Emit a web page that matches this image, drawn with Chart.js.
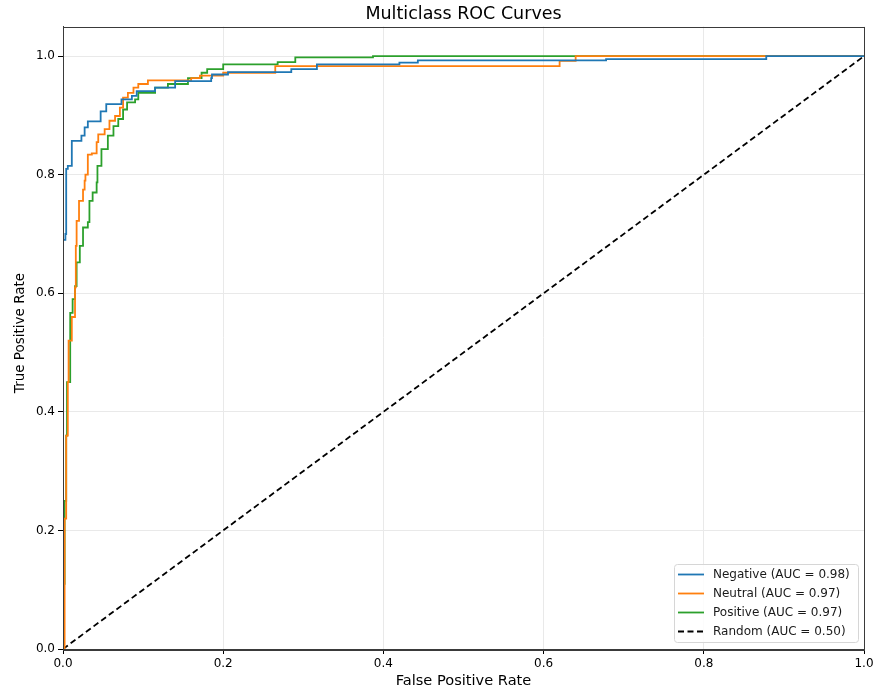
<!DOCTYPE html>
<html>
<head>
<meta charset="utf-8">
<script src="https://cdn.jsdelivr.net/npm/chart.js@4/dist/chart.umd.min.js"></script>
<style>
  html, body { margin: 0; padding: 0; background: #fff; }
  #wrap { width: 873px; height: 691px; position: relative; }
</style>
</head>
<body>
<div id="wrap"><canvas id="c" width="873" height="691"></canvas></div>
<script>
// ---- Data ----
const negFpr = [0, 0, 0.003, 0.004, 0.006, 0.011, 0.023, 0.027, 0.031, 0.047, 0.054, 0.073, 0.086, 0.092, 0.115, 0.14, 0.185, 0.186, 0.206, 0.285, 0.317, 0.42, 0.443, 0.678, 0.878, 1];
const negTpr = [0, 0.69, 0.70, 0.81, 0.815, 0.857, 0.866, 0.88, 0.89, 0.907, 0.919, 0.927, 0.933, 0.941, 0.947, 0.958, 0.963, 0.969, 0.973, 0.978, 0.986, 0.989, 0.993, 0.995, 1.0, 1.0];

const neuFpr = [0, 0.002, 0.004, 0.006, 0.007, 0.011, 0.015, 0.016, 0.017, 0.02, 0.025, 0.027, 0.028, 0.031, 0.036, 0.042, 0.044, 0.052, 0.058, 0.065, 0.071, 0.075, 0.081, 0.088, 0.094, 0.106, 0.16, 0.171, 0.2, 0.265, 0.62, 0.64, 1];
const neuTpr = [0, 0.22, 0.36, 0.45, 0.52, 0.56, 0.61, 0.68, 0.722, 0.756, 0.775, 0.79, 0.80, 0.834, 0.836, 0.855, 0.868, 0.877, 0.891, 0.899, 0.913, 0.93, 0.938, 0.947, 0.953, 0.959, 0.963, 0.967, 0.972, 0.983, 0.992, 1.0, 1.0];

const posFpr = [0, 0, 0.001, 0.002, 0.004, 0.005, 0.009, 0.012, 0.015, 0.017, 0.021, 0.025, 0.031, 0.033, 0.037, 0.042, 0.043, 0.048, 0.056, 0.063, 0.069, 0.075, 0.08, 0.09, 0.094, 0.115, 0.131, 0.156, 0.173, 0.18, 0.2, 0.268, 0.29, 0.387, 1];
const posTpr = [0, 0.08, 0.11, 0.25, 0.36, 0.45, 0.567, 0.59, 0.612, 0.652, 0.68, 0.711, 0.72, 0.756, 0.77, 0.787, 0.815, 0.843, 0.866, 0.882, 0.894, 0.91, 0.922, 0.927, 0.938, 0.947, 0.953, 0.963, 0.972, 0.978, 0.986, 0.99, 0.998, 1.0, 1.0];

const randFpr = [0, 1];
const randTpr = [0, 1];

const seriesLabels = ['Negative (AUC = 0.98)', 'Neutral (AUC = 0.97)', 'Positive (AUC = 0.97)', 'Random (AUC = 0.50)'];
const xTicks = [0.0, 0.2, 0.4, 0.6, 0.8, 1.0];
const yTicks = [0.0, 0.2, 0.4, 0.6, 0.8, 1.0];
const chartTitle = 'Multiclass ROC Curves';
const xTitle = 'False Positive Rate';
const yTitle = 'True Positive Rate';

// ---- Build ----
const FONT = '"DejaVu Sans", sans-serif';
const toPts = (xs, ys) => xs.map((x, i) => ({ x: x, y: ys[i] }));
const colors = ['#1f77b4', '#ff7f0e', '#2ca02c', '#000000'];

const boxPlugin = {
  id: 'boxPlugin',
  afterDatasetsDraw(chart) {
    const { ctx, chartArea: a } = chart;
    ctx.save();
    ctx.strokeStyle = '#3a3a3a';
    ctx.lineWidth = 1;
    ctx.strokeRect(Math.round(a.left) + 0.5, Math.round(a.top) + 0.5, Math.round(a.right - a.left), Math.round(a.bottom - a.top));
    ctx.restore();
  }
};

const titlesPlugin = {
  id: 'titlesPlugin',
  afterDraw(chart) {
    const { ctx, chartArea: a } = chart;
    const cx = (a.left + a.right) / 2;
    ctx.save();
    ctx.fillStyle = '#000';
    ctx.textAlign = 'center';
    ctx.textBaseline = 'middle';
    ctx.font = '17.5px ' + FONT;
    ctx.fillText(chartTitle, cx, 14);
    ctx.font = '14.6px ' + FONT;
    ctx.fillText(xTitle, cx, 681);
    ctx.translate(20, 333);
    ctx.rotate(-Math.PI / 2);
    ctx.font = '13.5px ' + FONT;
    ctx.fillText(yTitle, 0, 0);
    ctx.restore();
  }
};

const legendPlugin = {
  id: 'legendPlugin',
  afterDraw(chart) {
    const { ctx, chartArea: a } = chart;
    const w = 184, h = 78;
    const x0 = a.right - 6 - w, y0 = a.bottom - 7 - h;
    ctx.save();
    ctx.beginPath();
    if (ctx.roundRect) ctx.roundRect(x0 + 0.5, y0 + 0.5, w, h, 3); else ctx.rect(x0 + 0.5, y0 + 0.5, w, h);
    ctx.fillStyle = 'rgba(255,255,255,0.85)';
    ctx.fill();
    ctx.strokeStyle = '#d6d6d6';
    ctx.lineWidth = 1;
    ctx.stroke();
    ctx.font = '12px ' + FONT;
    ctx.textBaseline = 'middle';
    ctx.textAlign = 'left';
    chart.data.datasets.forEach((ds, i) => {
      const yy = y0 + 10.5 + i * 19;
      ctx.beginPath();
      ctx.strokeStyle = ds.borderColor;
      ctx.lineWidth = 1.8;
      ctx.setLineDash(ds.borderDash || []);
      ctx.moveTo(x0 + 4, yy);
      ctx.lineTo(x0 + 30, yy);
      ctx.stroke();
      ctx.setLineDash([]);
      ctx.fillStyle = '#1a1a1a';
      ctx.fillText(ds.label, x0 + 39, yy + 0.5);
    });
    ctx.restore();
  }
};

const mk = (label, xs, ys, color, dash) => ({
  label: label,
  data: toPts(xs, ys),
  borderColor: color,
  backgroundColor: color,
  borderWidth: 1.8,
  borderDash: dash || [],
  pointRadius: 0,
  pointHoverRadius: 0,
  tension: 0,
  stepped: dash ? false : 'before',
  fill: false
});

new Chart(document.getElementById('c'), {
  type: 'line',
  data: {
    datasets: [
      mk(seriesLabels[0], negFpr, negTpr, colors[0]),
      mk(seriesLabels[1], neuFpr, neuTpr, colors[1]),
      mk(seriesLabels[2], posFpr, posTpr, colors[2]),
      mk(seriesLabels[3], randFpr, randTpr, colors[3], [6, 3.5])
    ]
  },
  options: {
    responsive: false,
    animation: false,
    layout: { padding: { left: 0, right: 9, top: 26.5, bottom: 0 } },
    plugins: {
      legend: { display: false },
      tooltip: { enabled: false },
      title: { display: false }
    },
    scales: {
      x: {
        type: 'linear',
        min: 0, max: 1,
        afterBuildTicks: s => { s.ticks = xTicks.map(v => ({ value: v })); },
        afterFit: s => { s.height = 42; s.paddingLeft = 0; s.paddingRight = 0; },
        ticks: { color: '#000', font: { family: FONT, size: 12 }, padding: 3, maxRotation: 0, autoSkip: false,
                 callback: v => Number(v).toFixed(1) },
        grid: { color: '#e9e9e9', lineWidth: 1, tickColor: '#000', tickLength: 5 },
        border: { display: true, color: '#3a3a3a' },
        title: { display: false }
      },
      y: {
        type: 'linear',
        min: 0, max: 1.05,
        afterBuildTicks: s => { s.ticks = yTicks.map(v => ({ value: v })); },
        afterFit: s => { s.width = 63; s.paddingTop = 0; s.paddingBottom = 0; },
        ticks: { color: '#000', font: { family: FONT, size: 12 }, padding: 3, autoSkip: false,
                 callback: v => Number(v).toFixed(1) },
        grid: { color: '#e9e9e9', lineWidth: 1, tickColor: '#000', tickLength: 5 },
        border: { display: true, color: '#3a3a3a' },
        title: { display: false }
      }
    }
  },
  plugins: [boxPlugin, legendPlugin, titlesPlugin]
});
</script>
</body>
</html>
